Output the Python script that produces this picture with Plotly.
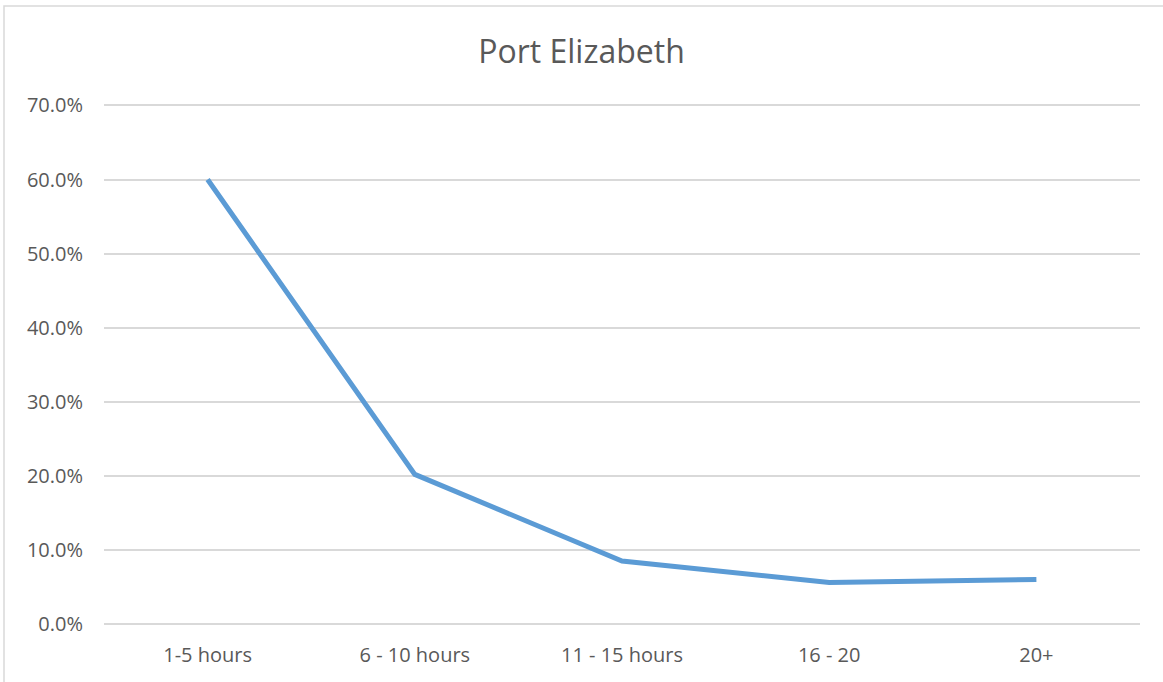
import plotly.graph_objects as go

categories = ["1-5 hours", "6 - 10 hours", "11 - 15 hours", "16 - 20", "20+"]
share = [0.600, 0.202, 0.085, 0.056, 0.060]

fig = go.Figure()
fig.add_trace(
    go.Scatter(
        x=categories,
        y=share,
        mode="lines",
        line=dict(color="#5B9BD5", width=5, shape="linear"),
        hoverinfo="x+y",
    )
)

fig.update_layout(
    width=1163,
    height=682,
    margin=dict(l=104, r=23, t=104, b=58, autoexpand=False),
    paper_bgcolor="white",
    plot_bgcolor="white",
    font=dict(family="Open Sans, Liberation Sans, sans-serif", color="#595959"),
    title=dict(
        text="Port Elizabeth",
        x=0.5,
        xanchor="center",
        y=1 - 52 / 682,
        yanchor="middle",
        font=dict(size=32, color="#595959"),
    ),
    showlegend=False,
    xaxis=dict(
        showgrid=False,
        showline=False,
        ticks="",
        ticklabelstandoff=17,
        tickfont=dict(size=20, color="#595959"),
        range=[-0.5, 4.5],
    ),
    yaxis=dict(
        range=[0, 0.702],
        tickvals=[0, 0.1, 0.2, 0.3, 0.4, 0.5, 0.6, 0.7],
        tickformat=".1%",
        showgrid=True,
        gridcolor="#D9D9D9",
        gridwidth=1.6,
        zeroline=True,
        zerolinecolor="#D9D9D9",
        zerolinewidth=1.6,
        showline=False,
        ticks="",
        ticklabelstandoff=20,
        tickfont=dict(size=20, color="#595959"),
    ),
)

# light chart-area border (only left and top edges are visible in the crop)
fig.add_shape(
    type="rect",
    xref="paper",
    yref="paper",
    x0=(4 - 104) / 1036,
    x1=(1180 - 104) / 1036,
    y0=(624 - 690) / 520,
    y1=(624 - 6) / 520,
    line=dict(color="#D9D9D9", width=1.5),
    layer="below",
)

fig.write_html(
    "out.html",
    config={"displayModeBar": False},
    post_script="document.body.style.margin='0';",
)
